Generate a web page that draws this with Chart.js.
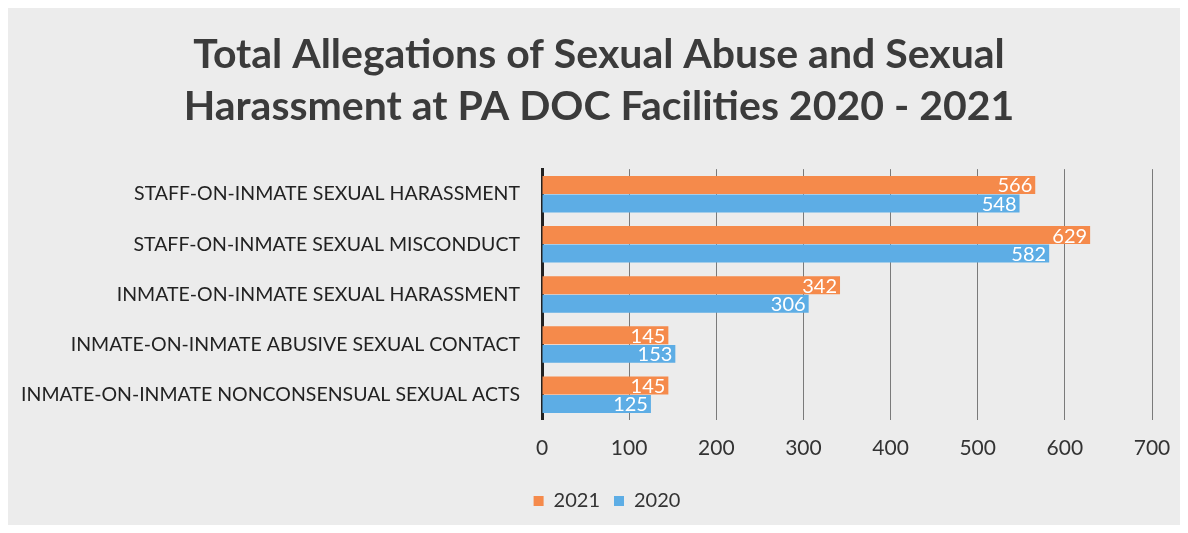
<!DOCTYPE html>
<html>
<head>
<meta charset="utf-8">
<script src="https://cdn.jsdelivr.net/npm/chart.js@4/dist/chart.umd.min.js"></script>
<style>
  html, body { margin: 0; padding: 0; background: #fff; }
  #wrap { width: 1188px; height: 533px; position: relative; }
</style>
</head>
<body>
<div id="wrap"><canvas id="chart" width="1188" height="533"></canvas></div>
<script>
// data
const categories = [
  "STAFF-ON-INMATE SEXUAL HARASSMENT",
  "STAFF-ON-INMATE SEXUAL MISCONDUCT",
  "INMATE-ON-INMATE SEXUAL HARASSMENT",
  "INMATE-ON-INMATE ABUSIVE SEXUAL CONTACT",
  "INMATE-ON-INMATE NONCONSENSUAL SEXUAL ACTS"
];
const values2021 = [566, 629, 342, 145, 145];
const values2020 = [548, 582, 306, 153, 125];
const titleLines = ["Total Allegations of Sexual Abuse and Sexual", "Harassment at PA DOC Facilities 2020 - 2021"];

// grey scanned panel behind everything
const panelBg = {
  id: 'panelBg',
  beforeDraw(chart) {
    const c = chart.ctx;
    c.save();
    c.fillStyle = '#ffffff';
    c.fillRect(0, 0, chart.width, chart.height);
    c.fillStyle = '#ececec';
    c.fillRect(8, 8, chart.width - 16, chart.height - 16);
    c.restore();
  }
};

// nudge title and legend a bit right, like the original
const nudge = {
  id: 'nudge',
  afterLayout(chart) {
    chart.titleBlock.left += 13;
    chart.titleBlock.right += 13;
    chart.legend.left += 21;
    chart.legend.right += 21;
  }
};

// white value labels at the bar ends
const barValues = {
  id: 'barValues',
  afterDatasetsDraw(chart) {
    const c = chart.ctx;
    c.save();
    c.font = '20px Lato, "Open Sans", sans-serif';
    c.fillStyle = '#ffffff';
    c.textAlign = 'right';
    c.textBaseline = 'middle';
    chart.data.datasets.forEach((ds, i) => {
      chart.getDatasetMeta(i).data.forEach((bar, j) => {
        c.fillText(ds.data[j], bar.x - 3, bar.y + 1);
      });
    });
    c.restore();
  }
};

new Chart(document.getElementById('chart'), {
  type: 'bar',
  data: {
    labels: categories,
    datasets: [
      { label: '2021', data: values2021, backgroundColor: '#f58a4b', categoryPercentage: 0.74, barPercentage: 0.97 },
      { label: '2020', data: values2020, backgroundColor: '#5dade5', categoryPercentage: 0.74, barPercentage: 0.97 }
    ]
  },
  options: {
    indexAxis: 'y',
    responsive: false,
    animation: false,
    layout: { padding: { left: 20, right: 36, top: 20, bottom: 12 } },
    plugins: {
      title: {
        display: true,
        text: titleLines,
        color: '#3b3b3b',
        font: { family: 'Lato, "Open Sans", sans-serif', size: 41, weight: 'bold', lineHeight: 1.27 },
        padding: { top: 9, bottom: 36 }
      },
      legend: {
        position: 'bottom',
        labels: {
          color: '#333',
          font: { family: 'Lato, "Open Sans", sans-serif', size: 20 },
          boxWidth: 10, boxHeight: 10, padding: 14
        }
      },
      tooltip: { enabled: false }
    },
    scales: {
      x: {
        min: 0, max: 700,
        ticks: { stepSize: 100, color: '#333', font: { family: 'Lato, "Open Sans", sans-serif', size: 21 }, padding: 16 },
        grid: { color: '#7a7a7a', lineWidth: 1, drawTicks: false },
        border: { display: false }
      },
      y: {
        ticks: { color: '#222', font: { family: 'Lato, "Open Sans", sans-serif', size: 19.5 }, padding: 14 },
        grid: { display: false },
        border: { color: '#222', width: 3 },
        afterFit(scale) { scale.width = 522; }
      }
    }
  },
  plugins: [panelBg, nudge, barValues]
});
</script>
</body>
</html>
